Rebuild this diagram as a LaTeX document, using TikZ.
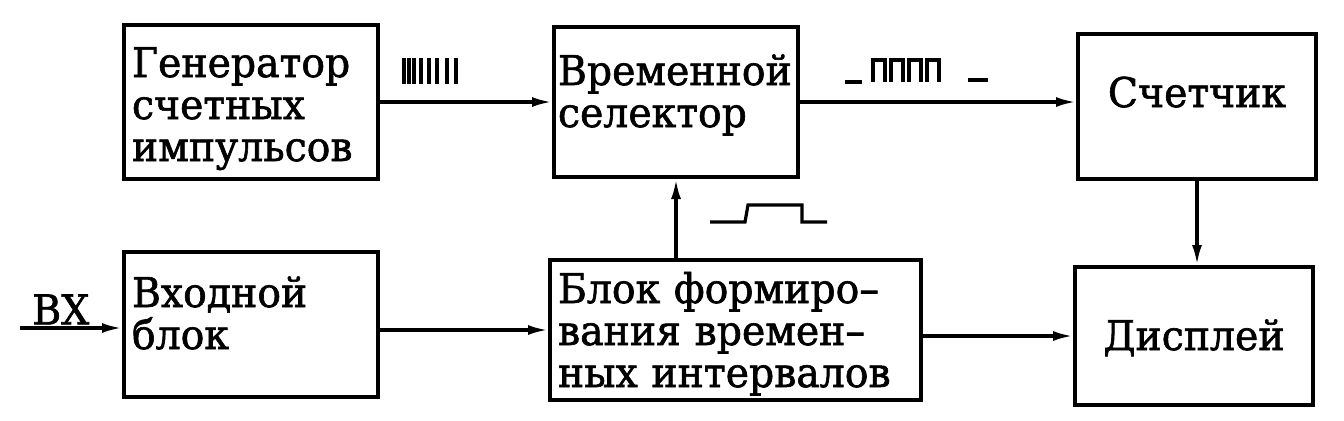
\documentclass[tikz,border=0pt]{standalone}
\usepackage{fontspec}
\setmainfont{DejaVu Serif}[FakeStretch=0.96, FakeBold=1.5]
\usetikzlibrary{positioning,calc,arrows.meta}
\tikzset{blok/.style={draw, line width=2pt, anchor=north west, inner xsep=4pt, inner ysep=0pt, align=left, font=\fontsize{20.5}{21}\selectfont}}
\tikzset{blokc/.style={blok, align=center}}
\tikzset{arr/.style={draw, line width=1.6pt, -{Latex[length=10pt,width=5pt]}}}
\tikzset{pulse/.style={draw, line width=1.6pt}}

\begin{document}
\begin{tikzpicture}[x=0.5pt, y=-0.5pt]
\useasboundingbox (0,0) rectangle (1344,420);
% blocks
\node[blok, text width=119pt, text height=26pt, text depth=51pt] (gen) at (122,23) {Генератор\\счетных\\импульсов};
\node[blok, inner xsep=2pt, text width=118pt, text height=29pt, text depth=46pt] (sel) at (552,25) {Временной\\селектор};
\node[blokc, text width=111pt, text height=36.5pt, text depth=36pt] (count) at (1076,32) {Счетчик};
\node[blok, text width=119pt, text height=27.5pt, text depth=45pt] (vx) at (122,250) {Входной\\блок};
\node[blok, text width=177.5pt, text height=21.5pt, text depth=48.5pt] (form) at (548,258) {Блок формиро--\\вания времен--\\ных интервалов};
\node[blokc, text width=111pt, text height=41.5pt, text depth=27.5pt] (disp) at (1073,265) {Дисплей};
% connectors
\coordinate (in) at (20,328);
\draw[arr] (in) -- node[above, pos=0.4, inner sep=1pt, font=\fontsize{20.5}{21}\selectfont] {ВХ} (in -| vx.west);
\draw[arr] (gen.east) -- (sel.west);
\draw[arr] (sel.east) -- (sel.east -| count.west);
\draw[arr] (form.north -| sel.south) -- (sel.south);
\draw[arr] (count.south) -- (count.south |- disp.north);
\draw[arr] (vx.east |- form.west) -- (form.west);
\draw[arr] (form.east |- disp.west) -- (disp.west);
% pulses
\foreach \x in {404,409,414,421,429,437,447,456}
  \draw[pulse] (\x,58) -- (\x,84);
\draw[pulse] (845,82) -- (862,82);
\foreach \x in {873,891,909,927}
  \draw[pulse] (\x,82) -- (\x,60) -- (\x+12,60) -- (\x+12,82);
\draw[pulse] (968,80) -- (988,80);
\draw[pulse] (710,222) -- (745,222) -- (748,205) -- (802,205) -- (802,222) -- (827,222);
\end{tikzpicture}
\end{document}
